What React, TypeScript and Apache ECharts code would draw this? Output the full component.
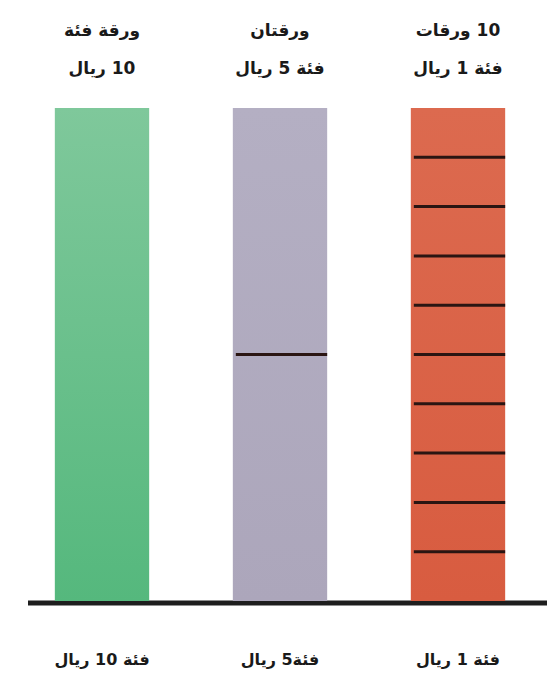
import React, { useEffect, useRef } from "react";
import * as echarts from "echarts";

// Bottom category labels
const categories = ["فئة 10 ريال", "فئة5 ريال", "فئة 1 ريال"];
// Top labels (two lines each)
const topLabelLine1 = ["ورقة فئة", "ورقتان", "10 ورقات"];
const topLabelLine2 = ["10 ريال", "فئة 5 ريال", "فئة 1 ريال"];
// Value of each note, and number of notes per column
const noteValues = [10, 5, 1];
const noteCounts = [1, 2, 10];
const barColorsTop = ["#7fc89b", "#b4afc3", "#dc6a4f"];
const barColorsBottom = ["#55b87d", "#aca6bb", "#d85c40"];

const rtl = (s: string) => "\u202B" + s + "\u202C";

export default function App() {
  const ref = useRef<HTMLDivElement>(null);
  useEffect(() => {
    if (!ref.current) return;
    const chart = echarts.init(ref.current, null, { renderer: "svg" });
    const data = categories.map((_, i) => [i, noteValues[i], noteCounts[i]]);
    const font = "'DejaVu Sans', sans-serif";
    chart.setOption({
      animation: false,
      backgroundColor: "#ffffff",
      grid: { left: 13, width: 537, top: 108, bottom: 80, containLabel: false },
      xAxis: [
        {
          type: "category",
          data: categories.map(rtl),
          axisLine: { show: false },
          axisTick: { show: false },
          axisLabel: {
            margin: 50,
            color: "#1a1a1a",
            fontSize: 16,
            fontWeight: "bold",
            fontFamily: font,
          },
        },
        {
          type: "category",
          position: "top",
          data: categories.map((_, i) => rtl(topLabelLine1[i]) + "\n" + rtl(topLabelLine2[i])),
          axisLine: { show: false },
          axisTick: { show: false },
          axisLabel: {
            margin: 21,
            color: "#1a1a1a",
            fontSize: 17,
            fontWeight: "bold",
            lineHeight: 38,
            fontFamily: font,
          },
        },
      ],
      yAxis: {
        type: "value",
        min: 0,
        max: 10,
        show: false,
        splitLine: { show: false },
      },
      series: [
        {
          type: "custom",
          xAxisIndex: 0,
          data,
          renderItem: (params: any, api: any) => {
            const idx = api.value(0);
            const v = api.value(1);
            const n = api.value(2);
            const bandW = api.size([1, 0])[0];
            const w = bandW * 0.53;
            const base = api.coord([idx, 0]);
            const top = api.coord([idx, v * n]);
            const x = base[0] - w / 2;
            const children: any[] = [
              {
                type: "rect",
                shape: { x, y: top[1], width: w, height: base[1] - top[1] },
                style: {
                  fill: new echarts.graphic.LinearGradient(0, 0, 0, 1, [
                    { offset: 0, color: barColorsTop[idx] },
                    { offset: 1, color: barColorsBottom[idx] },
                  ]),
                },
              },
            ];
            for (let j = 1; j < n; j++) {
              const p = api.coord([idx, j * v]);
              children.push({
                type: "line",
                shape: { x1: x + 3, y1: p[1], x2: x + w, y2: p[1] },
                style: { stroke: "#2a1512", lineWidth: 3 },
              });
            }
            return { type: "group", children };
          },
        },
      ],
      graphic: [
        {
          type: "line",
          shape: { x1: 28, y1: 603, x2: 547, y2: 603 },
          style: { stroke: "#1e1e1e", lineWidth: 5 },
        },
      ],
    });
    return () => chart.dispose();
  }, []);
  return (
    <div
      ref={ref}
      style={{ position: "fixed", left: 0, top: 0, width: 547, height: 681 }}
    />
  );
}
